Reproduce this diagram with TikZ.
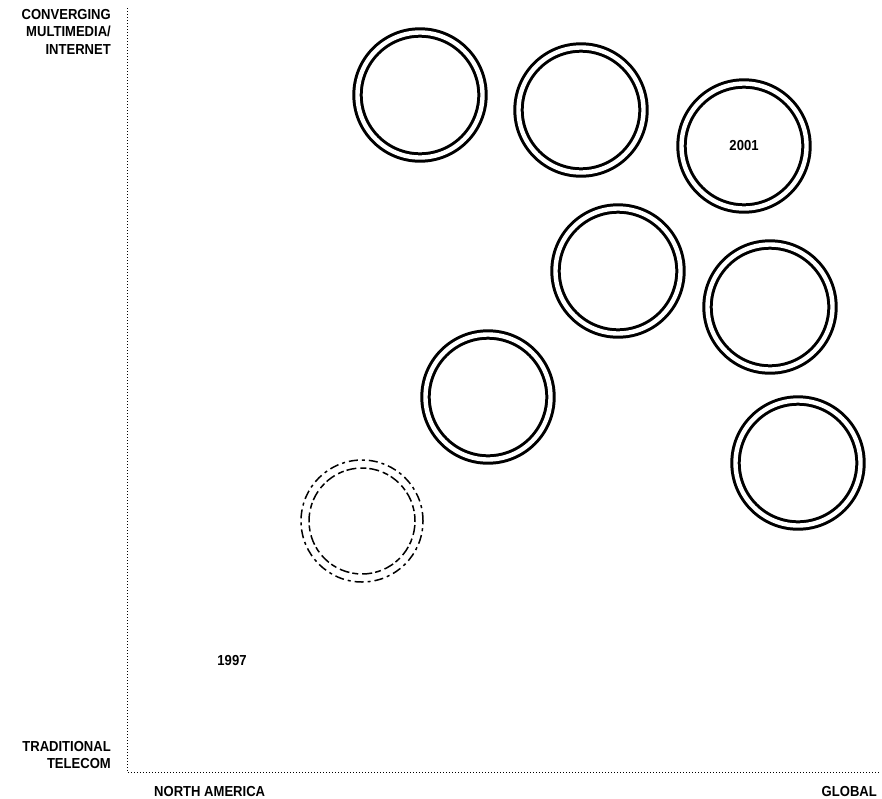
\documentclass[tikz,border=0pt]{standalone}
\usepackage{fontspec}
\newfontfamily\labelfont[FakeStretch=0.9]{Liberation Sans}
\usetikzlibrary{positioning}

\begin{document}
\begin{tikzpicture}[
    x=1pt, y=-1pt,
    ring/.style={circle, draw, line width=3pt, double, double distance=4.4pt, minimum size=125pt, inner sep=0pt, font=\labelfont\bfseries\fontsize{14.5}{17}\selectfont},
    oldring/.style={circle, draw, line width=1.5pt, dash pattern=on 9pt off 4pt on 3pt off 4pt, minimum size=122pt, inner sep=0pt},
    oldinner/.style={line width=1.5pt, dash pattern=on 6pt off 3pt on 10pt off 4pt, dash phase=5pt},
    axis/.style={line width=0.9pt, dash pattern=on 0.9pt off 2.1pt},
    label/.style={font=\labelfont\bfseries\fontsize{14.5}{17.5}\selectfont, inner sep=0pt},
]
    \useasboundingbox (0,0) rectangle (882,798);

    % Axes
    \coordinate (top) at (127,8);
    \coordinate (origin) at (127,772);
    \coordinate (right) at (880,772);
    \draw[axis] (top) -- (origin) -- (right);

    % Axis labels
    \node[label, align=right, anchor=north east] (conv) at (111,9) {CONVERGING\\MULTIMEDIA/\\INTERNET};
    \node[label, align=right, anchor=south east] (trad) at (111,769) {TRADITIONAL\\TELECOM};
    \node[label, anchor=west] (na) at (154,791) {NORTH AMERICA};
    \node[label, anchor=east] (glob) at (877,791) {GLOBAL};

    % Rings
    \node[oldring] (r1997) at (362,521) {};
    \draw[oldinner] (r1997.center) circle (53);
    \node[ring] (rA) at (488,397) {};
    \node[ring] (rB) at (618,271) {};
    \node[ring] (rC) at (770,307) {};
    \node[ring] (rD) at (798,463) {};
    \node[ring] (rE) at (420,95) {};
    \node[ring] (rF) at (581,110) {};
    \node[ring] (r2001) at (744,146) {2001};

    % Year marker
    \node[label] (y1997) at (232,660) {1997};
\end{tikzpicture}
\end{document}
